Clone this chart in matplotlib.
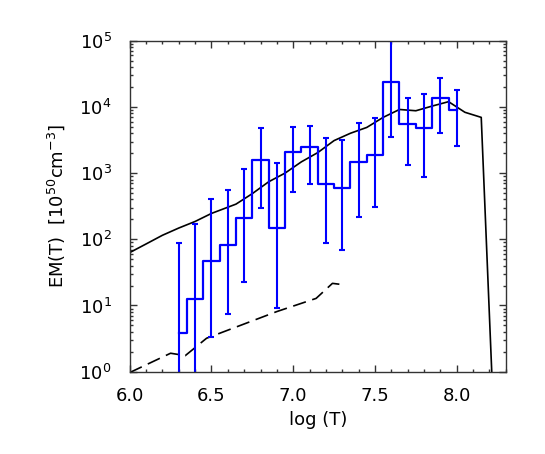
import numpy as np
import matplotlib
matplotlib.use('Agg')
import matplotlib.pyplot as plt
from matplotlib.ticker import MultipleLocator, LogLocator, NullFormatter

# blue histogram (IDL psym=10 style), bin values at log T
logt_bins = [6.3, 6.4, 6.5, 6.6, 6.7, 6.8, 6.9, 7.0, 7.1, 7.2,
             7.3, 7.4, 7.5, 7.6, 7.7, 7.8, 7.9, 8.0]
em_bins = [3.9, 12.5, 47.5, 83, 210, 1580, 147, 2060, 2450, 690,
           600, 1480, 1870, 24000, 5460, 4800, 13800, 8850]
em_err_lo = [0.1, 0.1, 3.4, 7.4, 22.8, 300, 9.3, 512, 680, 87,
             68, 220, 310, 3460, 1320, 870, 4070, 2530]
em_err_hi = [89, 170, 402, 550, 1170, 4850, 1400, 4900, 5200, 3380,
             3200, 5800, 6700, 100000, 13500, 15500, 27000, 18000]

# solid black model curve
logt_model = [6.0, 6.1, 6.2, 6.3, 6.4, 6.5, 6.65, 6.75, 6.85, 6.95,
              7.05, 7.15, 7.25, 7.35, 7.45, 7.55, 7.65, 7.75, 7.85,
              7.95, 8.05, 8.15, 8.215]
em_model = [63, 85, 115, 148, 186, 246, 340, 490, 740, 1000,
            1480, 2040, 3100, 4000, 4900, 6950, 9150, 8750, 10300,
            12000, 8300, 6950, 0.9]

# dashed curve
logt_dash = [6.0, 6.25, 6.34, 6.47, 6.9, 7.14, 7.24, 7.32]
em_dash = [0.97, 1.9, 1.75, 3.2, 8.1, 12.8, 21.6, 20.4]


def main():
    fig = plt.figure(figsize=(5.45, 4.54), dpi=100)
    ax = fig.add_axes([0.238, 0.1813, 0.690, 0.729])

    ax.plot(logt_model, em_model, color='black', lw=1.2)
    ax.plot(logt_dash, em_dash, color='black', lw=1.2, dashes=(8, 4))

    x = np.array(logt_bins)
    y = np.array(em_bins)
    yerr = [y - np.array(em_err_lo), np.array(em_err_hi) - y]
    ax.step(x, y, where='mid', color='blue', lw=1.6)
    ax.errorbar(x, y, yerr=yerr, fmt='none', ecolor='blue',
                elinewidth=1.5, capsize=2, capthick=1.5)

    ax.set_yscale('log')
    ax.set_xlim(6.0, 8.3)
    ax.set_ylim(1, 1e5)

    ax.xaxis.set_major_locator(MultipleLocator(0.5))
    ax.xaxis.set_minor_locator(MultipleLocator(0.1))
    ax.xaxis.set_major_formatter(plt.FormatStrFormatter('%.1f'))
    ax.yaxis.set_major_locator(LogLocator(base=10, numticks=10))
    ax.yaxis.set_minor_locator(LogLocator(base=10, subs=np.arange(2, 10), numticks=20))
    ax.yaxis.set_minor_formatter(NullFormatter())

    ax.tick_params(which='both', direction='in', top=True, right=True,
                   labelsize=13, color='#333333')
    ax.tick_params(which='major', length=5, width=1)
    ax.tick_params(which='minor', length=2.5, width=1)
    ax.tick_params(axis='x', which='major', pad=11)
    ax.tick_params(axis='y', which='major', pad=13)
    for s in ax.spines.values():
        s.set_color('#333333')
        s.set_linewidth(1)

    ax.set_xlabel('log (T)', fontsize=13, labelpad=4)
    ax.set_ylabel(r'EM(T)  [10$^{50}$cm$^{-3}$]', fontsize=13, labelpad=9)

    fig.savefig('out.png', dpi=100)


if __name__ == '__main__':
    main()
